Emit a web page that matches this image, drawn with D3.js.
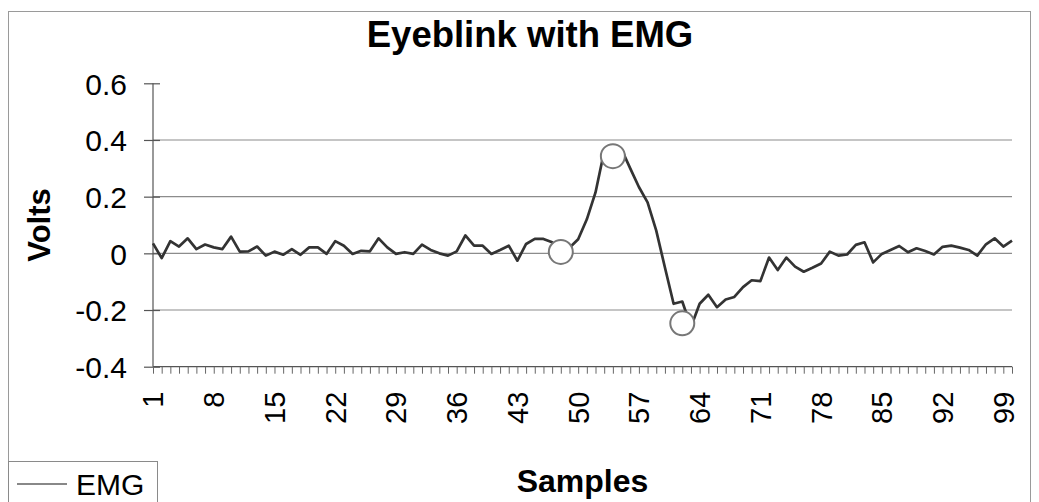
<!DOCTYPE html>
<html>
<head>
<meta charset="utf-8">
<script src="https://cdn.jsdelivr.net/npm/d3@7"></script>
<style>
  html, body { margin: 0; padding: 0; background: #fff; }
  svg { display: block; }
  text { font-family: "Liberation Sans", Arial, Helvetica, sans-serif; fill: #000; }
</style>
</head>
<body>
<svg id="chart" width="1039" height="502"></svg>
<script>
// Sample numbers (category axis) and EMG readings in volts
const samples = d3.range(1, 101);
const emgVolts = [
  0.035, -0.017, 0.043, 0.024, 0.053, 0.015, 0.031, 0.021, 0.015, 0.059,
  0.006, 0.007, 0.024, -0.008, 0.006, -0.005, 0.015, -0.005, 0.021, 0.021,
  -0.002, 0.043, 0.027, -0.002, 0.009, 0.007, 0.053, 0.021, -0.002, 0.004,
  -0.002, 0.031, 0.012, 0.000, -0.008, 0.007, 0.063, 0.027, 0.027, -0.002,
  0.012, 0.027, -0.026, 0.033, 0.051, 0.051, 0.039, 0.004, 0.020, 0.050,
  0.120, 0.215, 0.360, 0.350, 0.367, 0.300, 0.234, 0.180, 0.080, -0.050,
  -0.178, -0.170, -0.260, -0.178, -0.146, -0.190, -0.163, -0.154, -0.119, -0.095,
  -0.098, -0.015, -0.059, -0.015, -0.047, -0.065, -0.051, -0.036, 0.006, -0.008,
  -0.004, 0.030, 0.039, -0.032, -0.002, 0.012, 0.026, 0.004, 0.018, 0.008,
  -0.004, 0.023, 0.027, 0.020, 0.012, -0.008, 0.032, 0.053, 0.024, 0.045
];

// Highlighted events on the trace: blink onset, peak, trough
const markerSamples = [48, 54, 62];
const markerVolts = [0.005, 0.343, -0.247];

// Axis labelling
const yTicks = [-0.4, -0.2, 0, 0.2, 0.4, 0.6];
const yTickLabels = ["-0.4", "-0.2", "0", "0.2", "0.4", "0.6"];
const yGridTicks = [-0.2, 0, 0.2, 0.4];
const xLabelSamples = samples.filter(s => (s - 1) % 7 === 0);
const titleText = "Eyeblink with EMG";
const xTitle = "Samples";
const yTitle = "Volts";
const seriesName = "EMG";

const svg = d3.select("#chart");
const plot = { left: 153, right: 1012, top: 83.3, bottom: 366.7 };

// Outer chart frame
svg.append("rect")
  .attr("x", 8.5).attr("y", 11.5)
  .attr("width", 1022).attr("height", 520)
  .attr("fill", "none").attr("stroke", "#9a9a9a").attr("stroke-width", 1);

const x = d3.scalePoint().domain(samples).range([plot.left, plot.right]);
const y = d3.scaleLinear().domain([-0.4, 0.6]).range([plot.bottom, plot.top]);

// Horizontal gridlines
svg.append("g")
  .selectAll("line")
  .data(yGridTicks)
  .join("line")
  .attr("x1", plot.left).attr("x2", plot.right)
  .attr("y1", d => y(d)).attr("y2", d => y(d))
  .attr("stroke", "#8c8c8c").attr("stroke-width", 1.2);

// Y axis
const yAxis = svg.append("g")
  .attr("transform", `translate(${plot.left},0)`)
  .call(d3.axisLeft(y).tickValues(yTicks).tickSize(9).tickPadding(0)
        .tickFormat((d, i) => yTickLabels[i]));
yAxis.select(".domain").attr("stroke", "#555").attr("stroke-width", 1.2).attr("d", `M0,${plot.top}V${plot.bottom}`);
yAxis.selectAll(".tick line").attr("x1", -9).attr("x2", 7).attr("stroke", "#555").attr("stroke-width", 1.2);
yAxis.selectAll(".tick text")
  .attr("x", -26)
  .attr("dy", "0.36em")
  .style("font-size", "30px")
  .style("font-family", "'Liberation Sans', Arial, sans-serif")
  .attr("fill", "#000");

// X axis: a tick at every sample, label every seventh sample
const xAxis = svg.append("g")
  .attr("transform", `translate(0,${plot.bottom})`)
  .call(d3.axisBottom(x).tickValues(samples).tickSize(7).tickFormat(""));
xAxis.select(".domain").attr("stroke", "#555").attr("stroke-width", 1.2).attr("d", `M${plot.left},0H${plot.right}`);
xAxis.selectAll(".tick line").attr("stroke", "#666").attr("stroke-width", 1);

svg.append("g")
  .selectAll("text")
  .data(xLabelSamples)
  .join("text")
  .attr("transform", d => `translate(${x(d)},${plot.bottom + 25}) rotate(-90)`)
  .attr("text-anchor", "end")
  .attr("dy", "0.36em")
  .style("font-size", "29px")
  .text(d => d);

// EMG trace
const line = d3.line()
  .x((d, i) => x(samples[i]))
  .y(d => y(d));
svg.append("path")
  .datum(emgVolts)
  .attr("d", line)
  .attr("fill", "none")
  .attr("stroke", "#333")
  .attr("stroke-width", 2.7)
  .attr("stroke-linejoin", "round");

// Event circles
svg.append("g")
  .selectAll("circle")
  .data(markerSamples)
  .join("circle")
  .attr("cx", d => x(d))
  .attr("cy", (d, i) => y(markerVolts[i]))
  .attr("r", 12)
  .attr("fill", "#fff")
  .attr("stroke", "#777")
  .attr("stroke-width", 2);

// Titles
svg.append("text")
  .attr("x", 530).attr("y", 47)
  .attr("text-anchor", "middle")
  .style("font-size", "36.5px").style("font-weight", "bold")
  .text(titleText);

svg.append("text")
  .attr("x", (plot.left + plot.right) / 2).attr("y", 492)
  .attr("text-anchor", "middle")
  .style("font-size", "32px").style("font-weight", "bold")
  .text(xTitle);

svg.append("text")
  .attr("transform", `translate(50,${(plot.top + plot.bottom) / 2}) rotate(-90)`)
  .attr("text-anchor", "middle")
  .style("font-size", "31px").style("font-weight", "bold")
  .text(yTitle);

// Legend
const legend = svg.append("g");
legend.append("rect")
  .attr("x", 8.5).attr("y", 461.5)
  .attr("width", 149).attr("height", 60)
  .attr("fill", "#fff").attr("stroke", "#8a8a8a").attr("stroke-width", 1);
legend.append("line")
  .attr("x1", 17).attr("x2", 67).attr("y1", 484).attr("y2", 484)
  .attr("stroke", "#888").attr("stroke-width", 2);
legend.append("text")
  .attr("x", 76).attr("y", 495)
  .style("font-size", "30px")
  .text(seriesName);
</script>
</body>
</html>
